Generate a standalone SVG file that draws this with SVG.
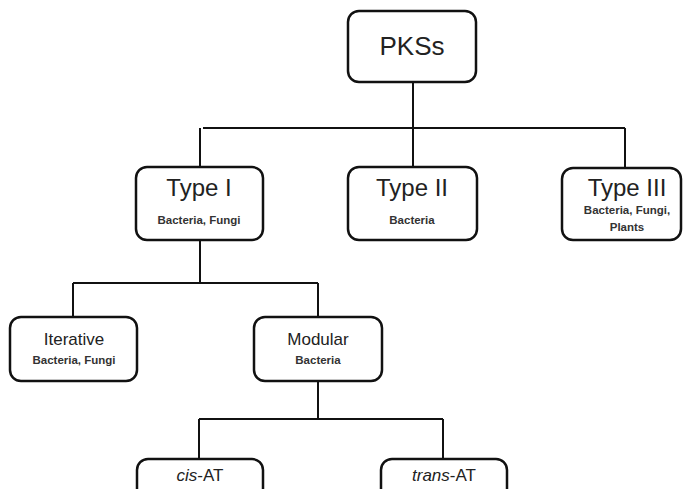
<svg xmlns="http://www.w3.org/2000/svg" width="684" height="489" viewBox="0 0 684 489">
<style>
.box{fill:#fff;stroke:#111;stroke-width:2.5}
.ln{fill:none;stroke:#111;stroke-width:2}
text{font-family:"Liberation Sans",Arial,sans-serif;fill:#222;text-anchor:middle}
.big{font-size:24px}
.mid{font-size:17px}
.sm{font-size:11.5px;font-weight:bold;fill:#333}
</style>
<rect width="684" height="489" fill="#fff"/>
<g id="connectors">
<path class="ln" d="M413 82V128M203 128H625M200 128V167M413 128V167M625 128V168"/>
<path class="ln" d="M200 240V283M73 283H318M73 283V317M318 283V317"/>
<path class="ln" d="M318 381V419M199 419H443M199 419V459M443 419V459"/>
</g>
<g id="pkss"><rect class="box" x="348" y="11" width="128" height="71" rx="11"/><text x="412" y="55" font-size="26">PKSs</text></g>
<g id="type1"><rect class="box" x="136" y="167" width="127" height="73" rx="11"/><text class="big" x="199" y="196">Type I</text><text class="sm" x="199" y="224">Bacteria, Fungi</text></g>
<g id="type2"><rect class="box" x="348" y="167" width="129" height="73" rx="11"/><text class="big" x="412" y="196">Type II</text><text class="sm" x="412" y="224">Bacteria</text></g>
<g id="type3"><rect class="box" x="562" y="168" width="119" height="72" rx="11"/><text class="big" x="627" y="196">Type III</text><text class="sm" x="627" y="214">Bacteria, Fungi,</text><text class="sm" x="627" y="231">Plants</text></g>
<g id="iterative"><rect class="box" x="10" y="317" width="127" height="64" rx="11"/><text class="mid" x="74" y="345">Iterative</text><text class="sm" x="74" y="364">Bacteria, Fungi</text></g>
<g id="modular"><rect class="box" x="254" y="317" width="128" height="64" rx="11"/><text class="mid" x="318" y="345">Modular</text><text class="sm" x="318" y="364">Bacteria</text></g>
<g id="cisat"><rect class="box" x="137" y="459" width="126" height="60" rx="11"/><text class="mid" x="200" y="481"><tspan font-style="italic">cis</tspan>-AT</text></g>
<g id="transat"><rect class="box" x="381" y="459" width="126" height="60" rx="11"/><text class="mid" x="444" y="481"><tspan font-style="italic">trans</tspan>-AT</text></g>
</svg>
